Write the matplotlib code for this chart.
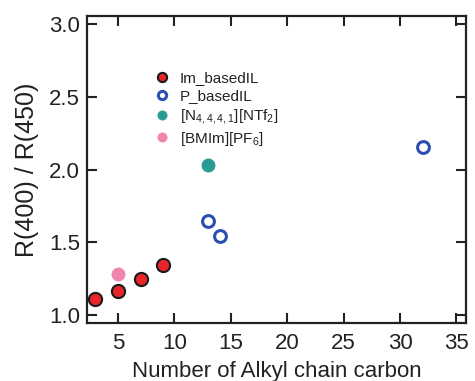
import matplotlib

matplotlib.use("Agg")
import matplotlib.pyplot as plt

plt.rcParams["font.family"] = ["Liberation Sans", "DejaVu Sans"]
plt.rcParams["mathtext.fontset"] = "custom"
plt.rcParams["mathtext.rm"] = "Liberation Sans"
plt.rcParams["mathtext.it"] = "Liberation Sans"

# data
im_x = [3, 5, 7, 9]
im_y = [1.11, 1.165, 1.25, 1.345]
p_x = [13, 14, 32]
p_y = [1.645, 1.545, 2.155]
n_x = [13]
n_y = [2.03]
bm_x = [5]
bm_y = [1.28]

fig = plt.figure(figsize=(4.75, 3.81), dpi=100)
ax = fig.add_axes([87 / 475, 1 - 323 / 381, (466 - 87) / 475, (323 - 16) / 381])

ax.plot(im_x, im_y, "o", ls="none", ms=9.5, mfc="#e8262a", mec="#1a1a1a", mew=1.5,
        label="Im_basedIL", zorder=3)
ax.plot(p_x, p_y, "o", ls="none", ms=8.5, mfc="white", mec="#2a4fb0", mew=2.2,
        label="P_basedIL", zorder=3)
ax.plot(n_x, n_y, "o", ls="none", ms=9.5, mfc="#2a9a94", mec="#2a9a94", mew=0.5,
        label=r"[N$_{4,4,4,1}$][NTf$_2$]", zorder=3)
ax.plot(bm_x, bm_y, "o", ls="none", ms=9.5, mfc="#f086b0", mec="#f086b0", mew=0.5,
        label=r"[BMIm][PF$_6$]", zorder=2)

ax.set_xlim(2.25, 35.85)
ax.set_ylim(0.945, 3.055)
ax.set_xticks([5, 10, 15, 20, 25, 30, 35])
ax.set_yticks([1.0, 1.5, 2.0, 2.5, 3.0])
ax.set_yticklabels(["1.0", "1.5", "2.0", "2.5", "3.0"])

ax.tick_params(direction="in", length=7, width=1.5, top=True, right=True,
               labelsize=16, pad=5, colors="#222222")
ax.tick_params(axis="x", pad=7)
for s in ax.spines.values():
    s.set_linewidth(1.6)
    s.set_color("#222222")

ax.set_xlabel("Number of Alkyl chain carbon", fontsize=16, color="#222222", labelpad=5)
ax.set_ylabel("R(400) / R(450)", fontsize=18, color="#222222", labelpad=7)

leg = ax.legend(loc="upper left", bbox_to_anchor=(0.14, 0.865), frameon=False,
                fontsize=11, handletextpad=0.6, labelspacing=0.25, markerscale=0.7,
                handlelength=1.1)
for t in leg.get_texts():
    t.set_color("#222222")

fig.savefig("out.png", dpi=100, facecolor="white")
